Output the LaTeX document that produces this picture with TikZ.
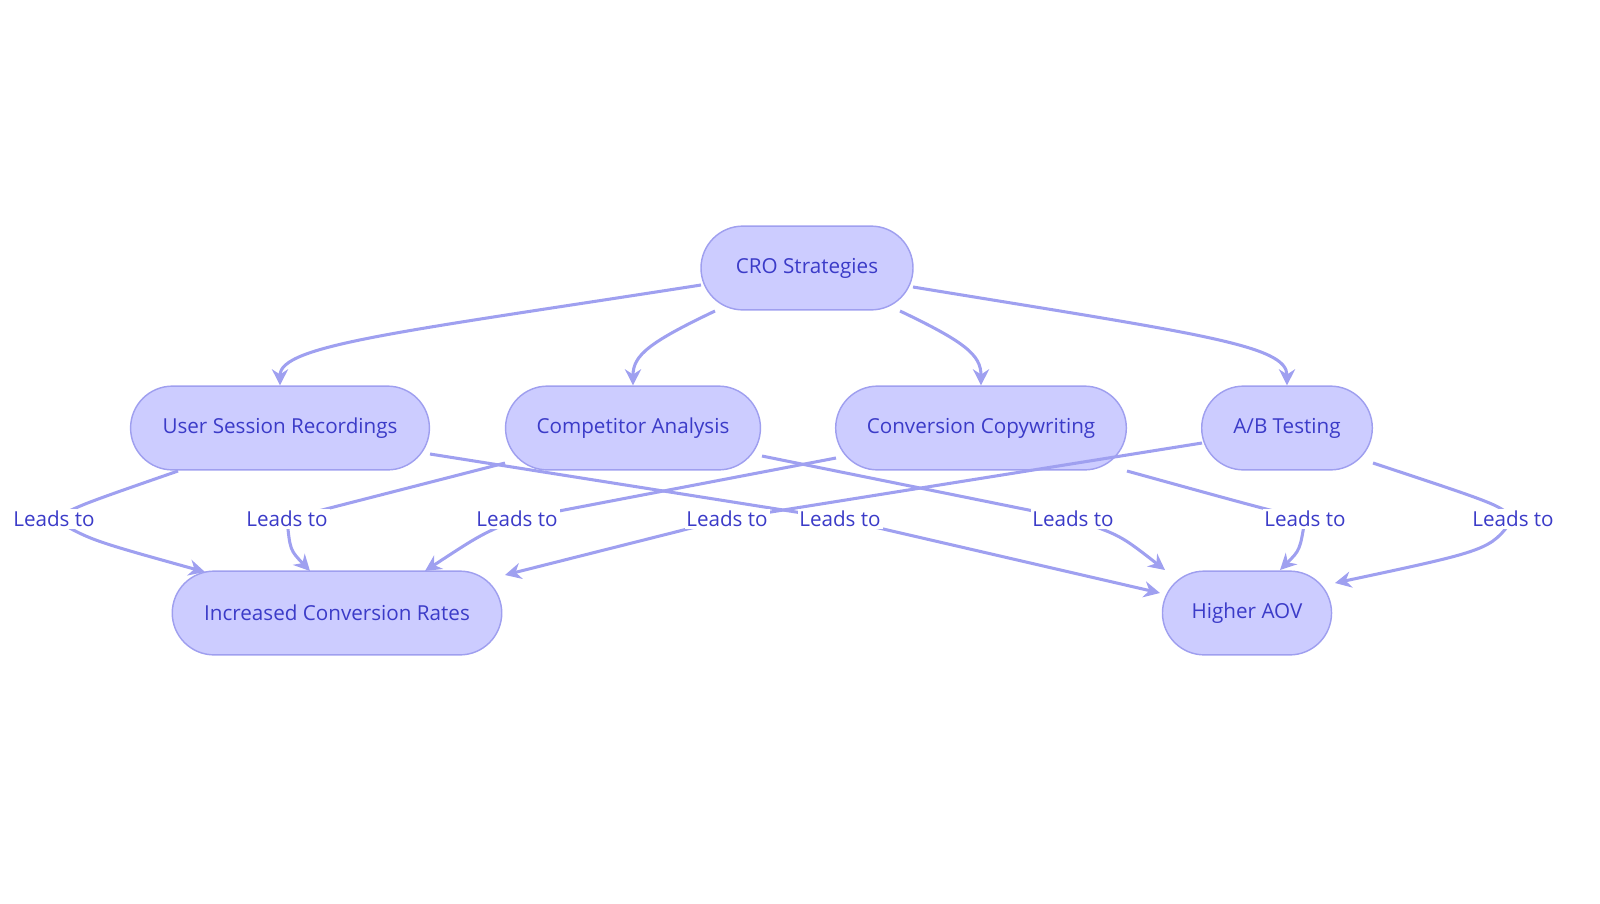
\documentclass[tikz,border=0pt]{standalone}
\usepackage{fontspec}
\setmainfont{Open Sans}
\usetikzlibrary{arrows.meta}
\definecolor{nfill}{HTML}{CCCCFF}
\definecolor{nline}{HTML}{9F9FEF}
\definecolor{ntext}{HTML}{3B3BC8}
\definecolor{eline}{HTML}{9FA0F0}
\begin{document}
\begin{tikzpicture}[x=0.01957cm,y=-0.01957cm,
  box/.style={draw=nline,fill=nfill,rounded corners=0.82cm,minimum height=1.64cm,line width=0.8pt,text=ntext,font=\fontsize{11.5}{13}\selectfont,inner sep=0pt},
  lbl/.style={fill=white,text=ntext,font=\fontsize{11.5}{13}\selectfont,inner sep=1pt},
  e/.style={draw=eline,line width=1.7pt,-{Stealth[length=9pt,width=9pt]}}]
\node[box,minimum width=4.15cm] (cro) at (807,268) {CRO Strategies};
\node[box,minimum width=5.85cm] (usr) at (280,428) {User Session Recordings};
\node[box,minimum width=4.99cm] (ca) at (633,428) {Competitor Analysis};
\node[box,minimum width=5.69cm] (cc) at (981,428) {Conversion Copywriting};
\node[box,minimum width=3.34cm] (ab) at (1287,428) {A/B Testing};
\node[box,minimum width=6.45cm] (icr) at (337,613) {Increased Conversion Rates};
\node[box,minimum width=3.31cm] (aov) at (1247,613) {Higher AOV};
\foreach \n/\x in {1/54,2/287,3/517,4/727,5/840,6/1073,7/1305,8/1513}
  \coordinate (l\n) at (\x,519);
\coordinate (s1) at (701,285);
\coordinate (s4) at (913,287);
% top edges
\draw[e] (s1) .. controls (400,332) and (280,345) .. (usr.north);
\draw[e] (715,311) .. controls (650,342) and (633,355) .. (ca.north);
\draw[e] (900,311) .. controls (965,342) and (981,355) .. (cc.north);
\draw[e] (s4) .. controls (1200,334) and (1287,345) .. (ab.north);
% bottom edges
\draw[e] (178,471) .. controls (80,505) .. (l1) .. controls (90,540) .. (205,572);
\draw[e] (430,454) -- (l5) -- (1160,593);
\draw[e] (505,463) .. controls (400,490) .. (l2) .. controls (290,550) .. (310,571);
\draw[e] (762,456) -- (l6) .. controls (1120,535) .. (1165,570);
\draw[e] (836,458) -- (l3) .. controls (480,535) .. (425,571);
\draw[e] (1127,471) .. controls (1250,505) .. (l7) .. controls (1300,550) .. (1280,570);
\draw[e] (1202,443) -- (l4) -- (505,575);
\draw[e] (1373,463) .. controls (1500,505) .. (l8) .. controls (1490,550) .. (1335,583);
\foreach \n in {1,...,8} \node[lbl] at (l\n) {Leads to};
\pgfresetboundingbox
\useasboundingbox (0,0) rectangle (1600,903);
\end{tikzpicture}
\end{document}
